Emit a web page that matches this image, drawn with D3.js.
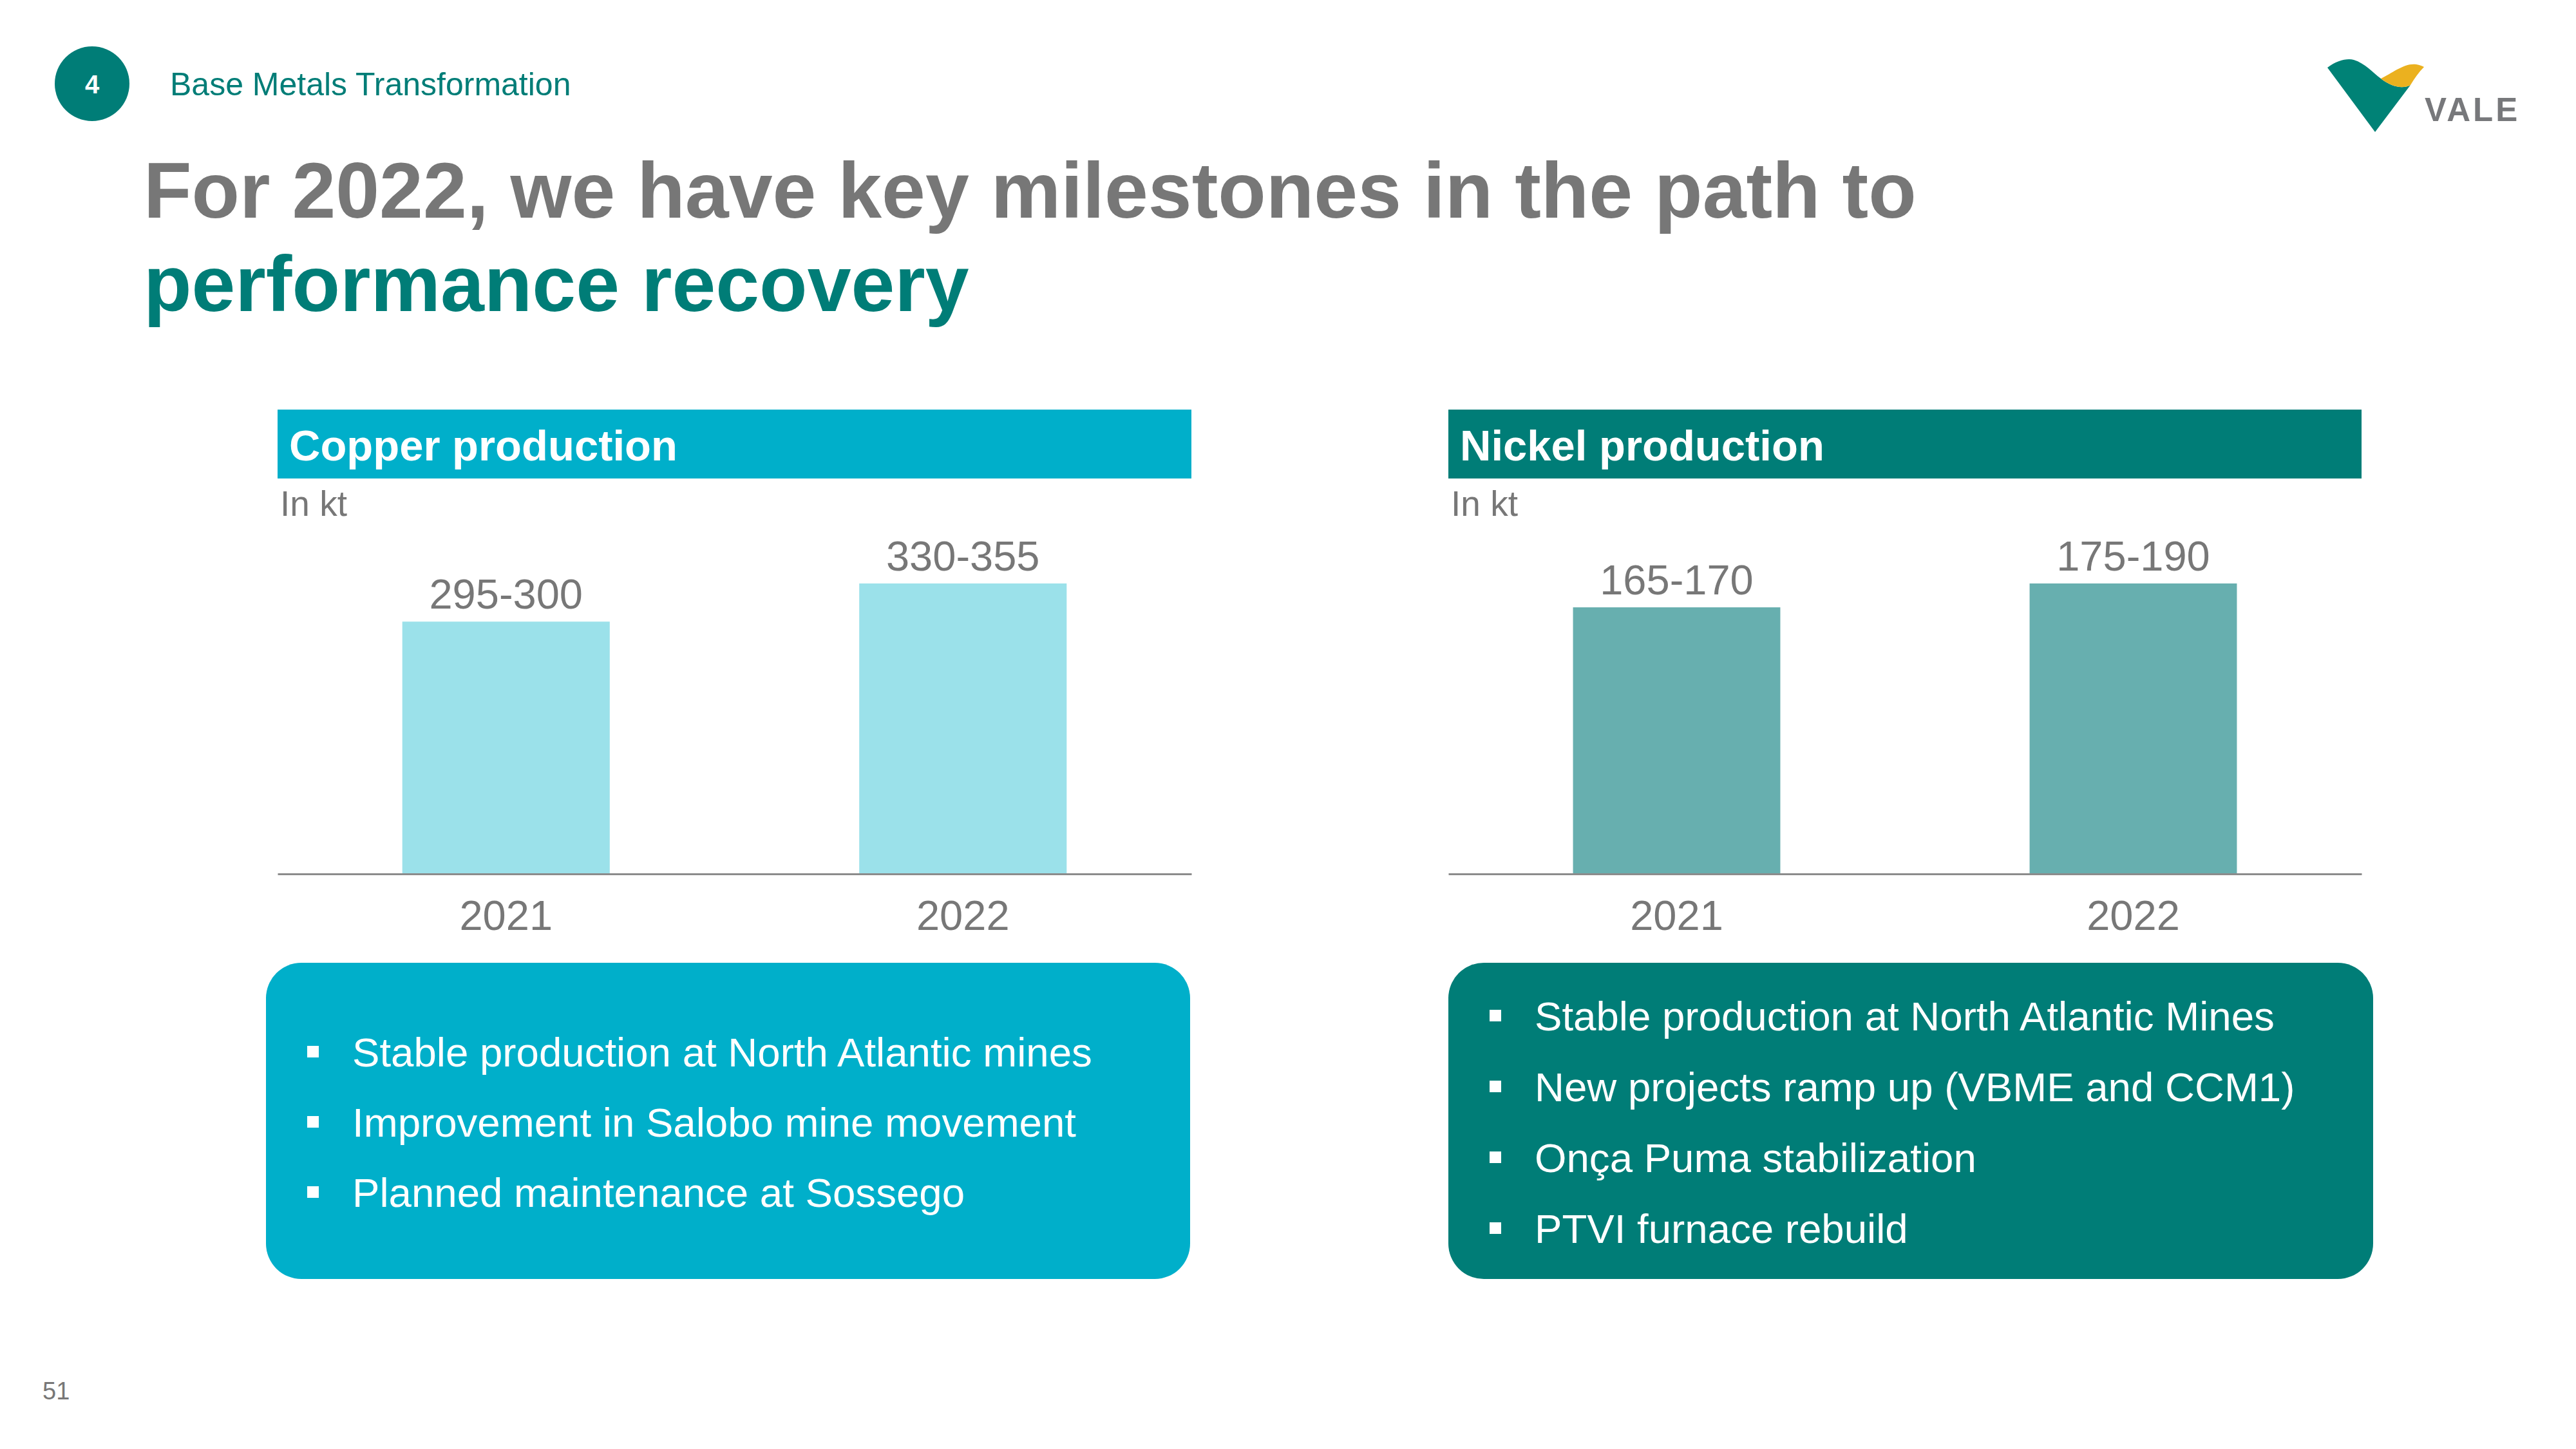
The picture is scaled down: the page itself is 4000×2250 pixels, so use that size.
<!DOCTYPE html>
<html>
<head>
<meta charset="utf-8">
<script src="https://cdn.jsdelivr.net/npm/d3@7"></script>
<style>
  html, body { margin: 0; padding: 0; background: #ffffff; }
  svg { display: block; }
  text { font-family: "Liberation Sans", Arial, Helvetica, sans-serif; }
</style>
</head>
<body>
<script>
// ---------- data ----------
const years = ["2021", "2022"];
const copperValues = [297.5, 342.5];
const copperLabels = ["295-300", "330-355"];
const nickelValues = [167.5, 182.5];
const nickelLabels = ["165-170", "175-190"];
const copperTitle = "Copper production";
const nickelTitle = "Nickel production";
const unitLabel = "In kt";
const copperBullets = [
  "Stable production at North Atlantic mines",
  "Improvement in Salobo mine movement",
  "Planned maintenance at Sossego"
];
const nickelBullets = [
  "Stable production at North Atlantic Mines",
  "New projects ramp up (VBME and CCM1)",
  "Onça Puma stabilization",
  "PTVI furnace rebuild"
];

// ---------- styles ----------
const GREY = "#777777";
const TEAL = "#007D77";
const CYAN = "#00AFCA";
const W = 4000, H = 2250;

const svg = d3.select("body").append("svg")
  .attr("width", W).attr("height", H)
  .attr("viewBox", `0 0 ${W} ${H}`);

svg.append("rect").attr("width", W).attr("height", H).attr("fill", "#fff");

// ---------- header ----------
svg.append("circle").attr("cx", 143).attr("cy", 130).attr("r", 58).attr("fill", TEAL);
svg.append("text").attr("x", 143).attr("y", 145).attr("text-anchor", "middle")
  .attr("font-size", 40).attr("font-weight", "bold").attr("fill", "#fff").text("4");
svg.append("text").attr("x", 264).attr("y", 148)
  .attr("font-size", 50).attr("fill", TEAL).text("Base Metals Transformation");

svg.append("text").attr("x", 223).attr("y", 338)
  .attr("font-size", 122).attr("font-weight", "bold").attr("fill", GREY)
  .text("For 2022, we have key milestones in the path to");
svg.append("text").attr("x", 223).attr("y", 483)
  .attr("font-size", 122).attr("font-weight", "bold").attr("fill", TEAL)
  .text("performance recovery");

// logo
const logo = svg.append("g");
logo.append("path")
  .attr("d", "M3614,105 C3628,94 3645,90 3655,93 C3672,98 3685,113 3697,122 C3712,134 3730,139 3743,132 L3688,205 Z")
  .attr("fill", "#008276");
logo.append("path")
  .attr("d", "M3697,122 C3715,113 3735,97 3752,100 C3757,101 3761,102 3764,104 C3756,112 3749,122 3743,132 C3730,139 3712,134 3697,122 Z")
  .attr("fill", "#EBB11F");
logo.append("text").attr("x", 3765).attr("y", 188)
  .attr("font-size", 51).attr("font-weight", "bold").attr("letter-spacing", 4)
  .attr("fill", "#77787B").text("VALE");

// page number
svg.append("text").attr("x", 66).attr("y", 2173)
  .attr("font-size", 38).attr("fill", GREY).text("51");

// ---------- charts ----------
const axisY = 1357;
const topY = 906;

function drawChart(opts) {
  const g = svg.append("g");
  // header bar
  g.append("rect").attr("x", opts.x0).attr("y", 636)
    .attr("width", opts.x1 - opts.x0).attr("height", 107).attr("fill", opts.headColor);
  g.append("text").attr("x", opts.x0 + 18).attr("y", 715)
    .attr("font-size", 67).attr("font-weight", "bold").attr("fill", "#fff").text(opts.title);
  g.append("text").attr("x", opts.x0 + 4).attr("y", 801)
    .attr("font-size", 55).attr("fill", GREY).text(unitLabel);

  const x = d3.scaleBand().domain(years).range([opts.x0, opts.x1])
    .paddingInner(0.546).paddingOuter(0.273);
  const y = d3.scaleLinear().domain([0, d3.max(opts.values)]).range([axisY, topY]);

  g.selectAll("rect.bar").data(opts.values).enter().append("rect")
    .attr("class", "bar")
    .attr("x", (d, i) => x(years[i]))
    .attr("y", d => y(d))
    .attr("width", x.bandwidth())
    .attr("height", d => axisY - y(d))
    .attr("fill", opts.barColor);

  g.selectAll("text.val").data(opts.values).enter().append("text")
    .attr("class", "val")
    .attr("x", (d, i) => x(years[i]) + x.bandwidth() / 2)
    .attr("y", d => y(d) - 20)
    .attr("text-anchor", "middle")
    .attr("font-size", 65).attr("fill", GREY)
    .text((d, i) => opts.labels[i]);

  const axis = g.append("g").attr("transform", `translate(0,${axisY})`)
    .call(d3.axisBottom(x).tickSize(0).tickPadding(87));
  axis.select(".domain").attr("stroke", "#8c8c8c").attr("stroke-width", 3);
  axis.selectAll("text").attr("font-size", 65).attr("fill", GREY)
    .attr("font-family", "\"Liberation Sans\", Arial, sans-serif")
    .attr("dy", 0);

  // bullet box
  const bx = opts.x0 - opts.boxPadL;
  g.append("rect").attr("x", bx).attr("y", 1495)
    .attr("width", opts.boxRight - bx).attr("height", 491)
    .attr("rx", 55).attr("ry", 55).attr("fill", opts.headColor);
  opts.bullets.forEach((t, i) => {
    const by = opts.firstBaseline + i * opts.lineStep;
    g.append("rect").attr("x", bx + 64).attr("y", by - 32)
      .attr("width", 18).attr("height", 18).attr("fill", "#fff");
    g.append("text").attr("x", bx + 134).attr("y", by)
      .attr("font-size", 63.6).attr("fill", "#fff").text(t);
  });
}

drawChart({
  x0: 431, x1: 1850, title: copperTitle, values: copperValues, labels: copperLabels,
  headColor: CYAN, barColor: "#9BE1EA", bullets: copperBullets,
  boxPadL: 18, boxRight: 1848, firstBaseline: 1656, lineStep: 109
});
drawChart({
  x0: 2249, x1: 3667, title: nickelTitle, values: nickelValues, labels: nickelLabels,
  headColor: TEAL, barColor: "#67AFAF", bullets: nickelBullets,
  boxPadL: 0, boxRight: 3685, firstBaseline: 1600, lineStep: 110
});
</script>
</body>
</html>
